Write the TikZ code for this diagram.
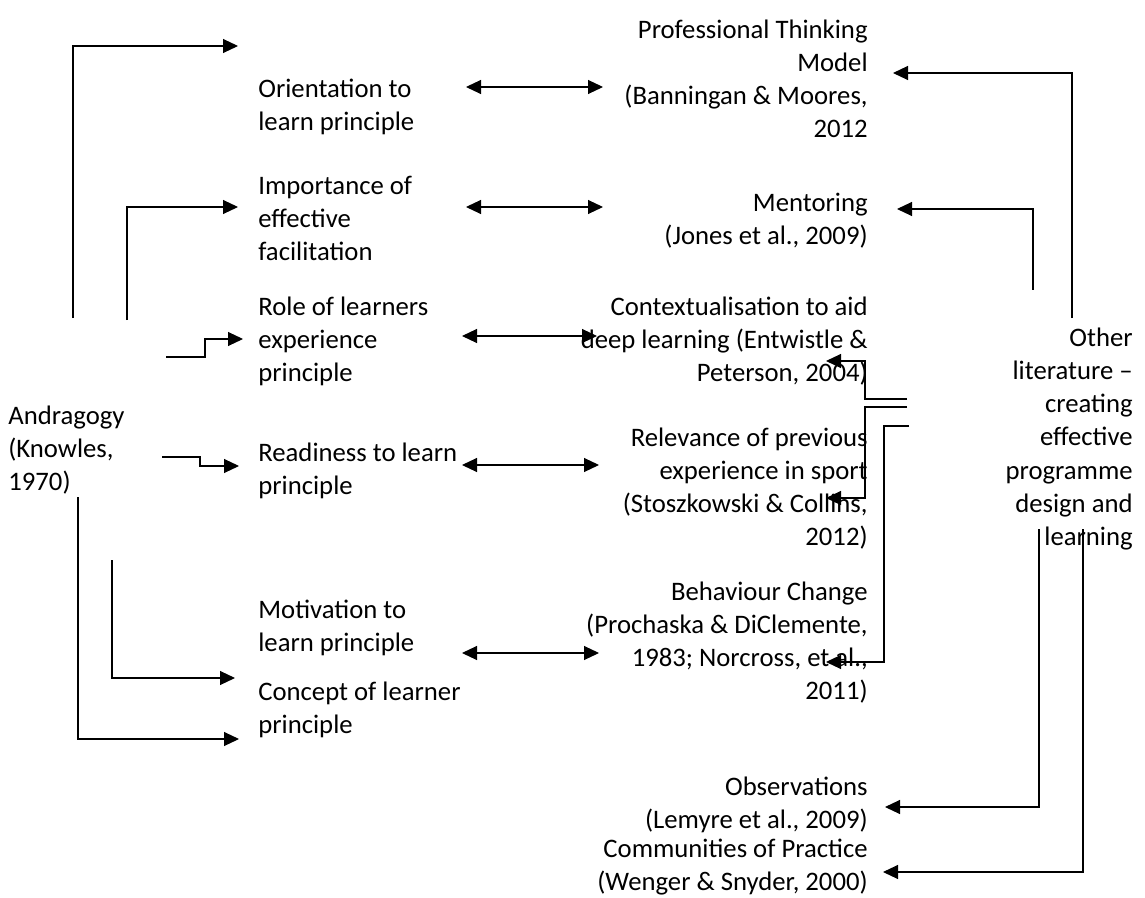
\documentclass[tikz,border=0pt]{standalone}
\usepackage{fontspec}
\setmainfont{Carlito}
\usetikzlibrary{arrows.meta,calc}

\begin{document}
\begin{tikzpicture}[
    x=0.02cm, y=-0.02cm,
    every node/.style={font=\fontsize{15.2}{18.8}\selectfont, inner sep=0pt},
    principle/.style={anchor=west, align=left},
    source/.style={anchor=east, align=right},
    arrow/.style={-{Triangle[length=0.3cm,width=0.28cm]}, line width=0.6pt},
    twoway/.style={{Triangle[length=0.3cm,width=0.28cm]}-{Triangle[length=0.3cm,width=0.28cm]}, line width=0.6pt}
]
\useasboundingbox (0,0) rectangle (1145,898);

% Andragogy (left)
\node[principle] (andra) at (8,450) {Andragogy\\(Knowles,\\1970)};

% Principles (middle)
\node[principle] (orient) at (258,107) {Orientation to\\learn principle};
\node[principle] (facil) at (258,218) {Importance of\\effective\\facilitation};
\node[principle] (exper) at (258,341) {Role of learners\\experience\\principle};
\node[principle] (ready) at (258,471) {Readiness to learn\\principle};
\node[principle] (motiv) at (258,628) {Motivation to\\learn principle};
\node[principle] (concept) at (258,710) {Concept of learner\\principle};

% Literature (right)
\node[source] (ptm) at (868,79) {Professional Thinking\\Model\\(Banningan \& Moores,\\2012};
\node[source] (mentor) at (868,221) {Mentoring\\(Jones et al., 2009)};
\node[source] (context) at (868,341) {Contextualisation to aid\\deep learning (Entwistle \&\\Peterson, 2004)};
\node[source] (relev) at (868,489) {Relevance of previous\\experience in sport\\(Stoszkowski \& Collins,\\2012)};
\node[source] (behav) at (868,643) {Behaviour Change\\(Prochaska \& DiClemente,\\1983; Norcross, et al.,\\2011)};
\node[source] (observ) at (868,805) {Observations\\(Lemyre et al., 2009)};
\node[source] (cop) at (868,867) {Communities of Practice\\(Wenger \& Snyder, 2000)};

% Other literature (far right)
\node[source] (other) at (1133,439) {Other\\literature --\\creating\\effective\\programme\\design and\\learning};

% Free ends of the connectors
\coordinate (a1) at (73,318);
\coordinate (a2) at (127,320);
\coordinate (a3) at (166,357);
\coordinate (a4) at (162,457);
\coordinate (a5) at (112,560);
\coordinate (a6) at (78,497);
\coordinate (b1) at (1072,318);
\coordinate (b2) at (1033,290);
\coordinate (b3) at (907,399);
\coordinate (b4) at (907,407);
\coordinate (b5) at (909,426);
\coordinate (b6) at (1039,529);
\coordinate (b7) at (1083,529);

% Andragogy arrows
\draw[arrow] (a1) |- ($(orient.west)+(-20,-61)$);
\draw[arrow] (a2) |- ($(facil.west)+(-20,-11)$);
\draw[arrow] (a3) -- ++(39,0) |- ($(exper.west)+(-15,-2)$);
\draw[arrow] (a4) -- ++(38,0) |- ($(ready.west)+(-19,-5)$);
\draw[arrow] (a5) |- ($(motiv.west)+(-23,50)$);
\draw[arrow] (a6) |- ($(concept.west)+(-19,29)$);

% Two-way links
\draw[twoway] ($(orient.west)+(208,-20)$) -- ($(ptm.east)+(-265,8)$);
\draw[twoway] ($(facil.west)+(208,-11)$) -- ($(mentor.east)+(-265,-14)$);
\draw[twoway] ($(exper.west)+(204,-5)$) -- ($(context.east)+(-271,-5)$);
\draw[twoway] ($(ready.west)+(204,-6)$) -- ($(relev.east)+(-269,-24)$);
\draw[twoway] ($(motiv.west)+(204,25)$) -- ($(behav.east)+(-269,10)$);

% Other literature arrows
\draw[arrow] (b1) |- ($(ptm.east)+(25,-6)$);
\draw[arrow] (b2) |- ($(mentor.east)+(29,-12)$);
\draw[arrow] (b3) -- ++(-42,0) |- ($(context.east)+(-42,20)$);
\draw[arrow] (b4) -- ++(-42,0) |- ($(relev.east)+(-42,9)$);
\draw[arrow] (b5) -- ++(-25,0) |- ($(behav.east)+(-42,19)$);
\draw[arrow] (b6) |- ($(observ.east)+(17,2)$);
\draw[arrow] (b7) |- ($(cop.east)+(15,5)$);

\end{tikzpicture}
\end{document}
